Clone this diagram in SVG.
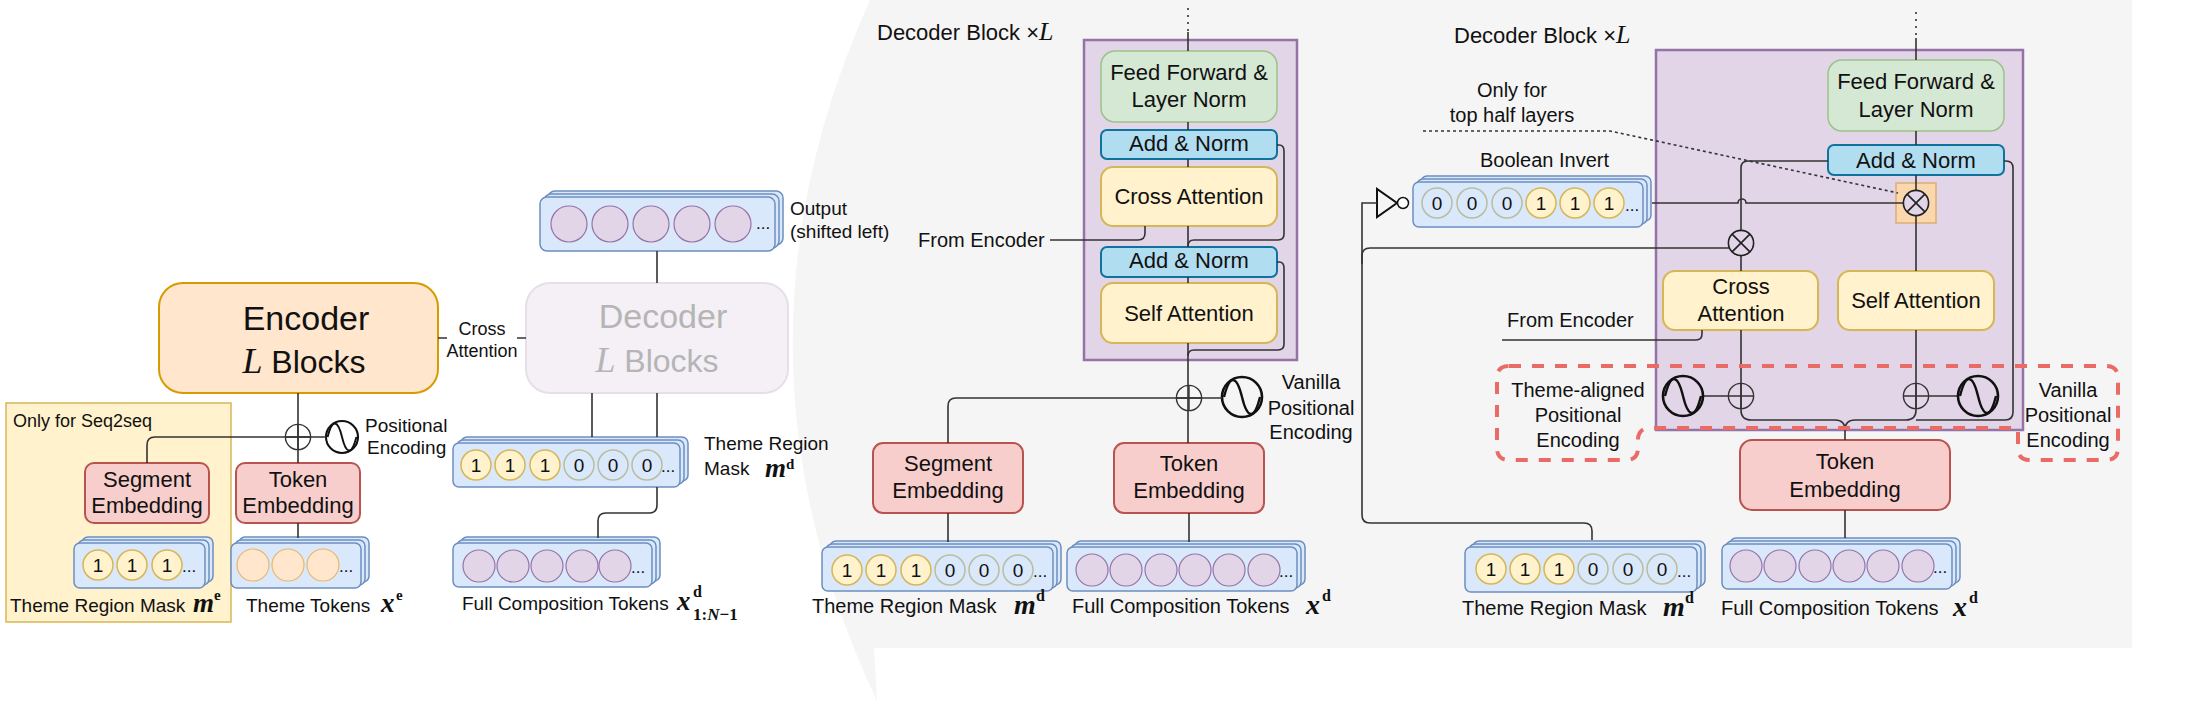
<svg xmlns="http://www.w3.org/2000/svg" xmlns:xlink="http://www.w3.org/1999/xlink" width="2189" height="701" viewBox="0 0 2189 701">
<defs>
<style>
.t{font-family:"Liberation Sans",Arial,sans-serif;fill:#111}
.mi{font-family:"Liberation Serif","Times New Roman",serif;font-style:italic;font-weight:bold;fill:#111}
.mr{font-family:"Liberation Serif","Times New Roman",serif;font-weight:bold;fill:#111}
.ml{font-family:"Liberation Serif","Times New Roman",serif;font-style:italic;fill:#111}
.ln{fill:none;stroke:#333;stroke-width:1.6}
.stk{fill:#dae8fc;stroke:#6c8ebf;stroke-width:1.5}
.c1{fill:#fff2cc;stroke:#d6b656;stroke-width:1.5}
.c0{fill:#dae8fc;stroke:#b9bd9f;stroke-width:1.5}
.cp{fill:#e1d5e7;stroke:#9673a6;stroke-width:1.2}
.co{fill:#ffe6cc;stroke:#e8b86c;stroke-width:1.2}
.emb{fill:#f8cecc;stroke:#b85450;stroke-width:2}
.att{fill:#fff2cc;stroke:#d6b656;stroke-width:2}
.ff{fill:#d5e8d4;stroke:#9cc28a;stroke-width:1.5}
.an{fill:#b1ddf0;stroke:#10739e;stroke-width:2}
.blk{fill:#e1d5e7;stroke:#9673a6;stroke-width:2.5}
.red{fill:none;stroke:#ea6b66;stroke-width:4;stroke-dasharray:12 11}
.dig{font-family:"Liberation Sans",Arial,sans-serif;font-size:19px;fill:#111;text-anchor:middle}
.dots{font-family:"Liberation Sans",Arial,sans-serif;font-size:17px;fill:#111}
</style>
<g id="sine"><circle r="20" fill="none" stroke="#111" stroke-width="2.6"/><path d="M-18,0 C-12,-24 -5,-21 0,0 S12,24 18,0" fill="none" stroke="#111" stroke-width="2.4"/></g>
<g id="plus"><circle r="12.6" fill="none" stroke="#333" stroke-width="1.4"/><path d="M-12.6,0H12.6M0,-12.6V12.6" stroke="#333" stroke-width="1.4"/></g>
<g id="mult"><circle r="12.6" fill="#e1d5e7" stroke="#222" stroke-width="1.6"/><path d="M-8.9,-8.9L8.9,8.9M-8.9,8.9L8.9,-8.9" stroke="#222" stroke-width="1.6"/></g>
</defs>

<rect width="2189" height="701" fill="#ffffff"/>
<path id="panel" d="M870,0 H2132 V648 H874 L877,701 Q712,350 870,0 Z" fill="#f5f5f5"/>

<!-- ================= LEFT OVERVIEW ================= -->
<g id="seq2seq-region">
<rect x="6" y="403" width="225" height="219" fill="#fff2cc" stroke="#d6b656" stroke-width="1.5"/>
<text class="t" x="13" y="427" font-size="18">Only for Seq2seq</text>
</g>

<g id="encoder">
<rect x="159" y="283" width="279" height="110" rx="24" fill="#ffe6cc" stroke="#d79b00" stroke-width="2"/>
<text class="t" x="306" y="330" font-size="34" text-anchor="middle">Encoder</text>
<text x="304" y="373" text-anchor="middle"><tspan class="ml" font-size="36">L</tspan><tspan class="t" font-size="32"> Blocks</tspan></text>
</g>

<g id="cross-attention-label">
<text class="t" x="482" y="335" font-size="18" text-anchor="middle">Cross</text>
<text class="t" x="482" y="357" font-size="18" text-anchor="middle">Attention</text>
</g>

<g id="decoder-overview" >
<rect x="526" y="283" width="262" height="110" rx="24" fill="#f4f0f6" stroke="#e6dfe9" stroke-width="2"/>
<text class="t" x="663" y="328" font-size="34" text-anchor="middle" style="fill:#b5b5b5">Decoder</text>
<text x="657" y="372" text-anchor="middle"><tspan class="ml" font-size="36" style="fill:#b5b5b5">L</tspan><tspan class="t" font-size="32" style="fill:#b5b5b5"> Blocks</tspan></text>
</g>

<g id="output-stack" transform="translate(540,197)">
<rect class="stk" x="8" y="-6" width="235" height="54" rx="7"/>
<rect class="stk" x="4" y="-3" width="235" height="54" rx="7"/>
<rect class="stk" x="0" y="0" width="235" height="54" rx="7"/>
<circle class="cp" cx="29" cy="27" r="18"/><circle class="cp" cx="70" cy="27" r="18"/><circle class="cp" cx="111" cy="27" r="18"/><circle class="cp" cx="152" cy="27" r="18"/><circle class="cp" cx="193" cy="27" r="18"/>
<text class="dots" x="216" y="32">...</text>
</g>
<g id="output-label">
<text class="t" x="790" y="215" font-size="19">Output</text>
<text class="t" x="790" y="238" font-size="19">(shifted left)</text>
</g>

<g id="seg-emb-enc">
<rect class="emb" x="85" y="463" width="124" height="60" rx="9"/>
<text class="t" x="147" y="487" font-size="22" text-anchor="middle">Segment</text>
<text class="t" x="147" y="513" font-size="22" text-anchor="middle">Embedding</text>
</g>
<g id="tok-emb-enc">
<rect class="emb" x="236" y="463" width="124" height="60" rx="9"/>
<text class="t" x="298" y="487" font-size="22" text-anchor="middle">Token</text>
<text class="t" x="298" y="513" font-size="22" text-anchor="middle">Embedding</text>
</g>
<g id="pe-enc">
<use xlink:href="#sine" href="#sine" transform="translate(342,437) scale(0.8)"/>
<text class="t" x="365" y="432" font-size="19">Positional</text>
<text class="t" x="367" y="454" font-size="19">Encoding</text>
</g>
<g id="add-enc"><use xlink:href="#plus" href="#plus" x="298" y="437"/></g>

<g id="mask-enc" transform="translate(74,543)">
<rect class="stk" x="8" y="-6" width="131" height="45" rx="6"/>
<rect class="stk" x="4" y="-3" width="131" height="45" rx="6"/>
<rect class="stk" x="0" y="0" width="131" height="45" rx="6"/>
<circle class="c1" cx="24" cy="22" r="15"/><circle class="c1" cx="58" cy="22" r="15"/><circle class="c1" cx="93" cy="22" r="15"/>
<text class="dig" x="24" y="29">1</text><text class="dig" x="58" y="29">1</text><text class="dig" x="93" y="29">1</text>
<text class="dots" x="108" y="29">...</text>
</g>
<g id="mask-enc-label">
<text class="t" x="10" y="612" font-size="19">Theme Region Mask</text>
<text class="mi" x="193" y="612" font-size="27">m</text>
<text class="mr" x="214" y="600" font-size="15">e</text>
</g>

<g id="theme-tokens" transform="translate(231,543)">
<rect class="stk" x="8" y="-6" width="130" height="45" rx="6"/>
<rect class="stk" x="4" y="-3" width="130" height="45" rx="6"/>
<rect class="stk" x="0" y="0" width="130" height="45" rx="6"/>
<circle class="co" cx="22" cy="22" r="16"/><circle class="co" cx="57" cy="22" r="16"/><circle class="co" cx="92" cy="22" r="16"/>
<text class="dots" x="108" y="29">...</text>
</g>
<g id="theme-tokens-label">
<text class="t" x="246" y="612" font-size="19">Theme Tokens</text>
<text class="mi" x="381" y="612" font-size="27">x</text>
<text class="mr" x="396" y="600" font-size="15">e</text>
</g>

<g id="mask-dec" transform="translate(453,443)">
<rect class="stk" x="8" y="-6" width="227" height="44" rx="6"/>
<rect class="stk" x="4" y="-3" width="227" height="44" rx="6"/>
<rect class="stk" x="0" y="0" width="227" height="44" rx="6"/>
<circle class="c1" cx="23" cy="22" r="15"/><circle class="c1" cx="57" cy="22" r="15"/><circle class="c1" cx="92" cy="22" r="15"/>
<circle class="c0" cx="126" cy="22" r="15"/><circle class="c0" cx="160" cy="22" r="15"/><circle class="c0" cx="194" cy="22" r="15"/>
<text class="dig" x="23" y="29">1</text><text class="dig" x="57" y="29">1</text><text class="dig" x="92" y="29">1</text>
<text class="dig" x="126" y="29">0</text><text class="dig" x="160" y="29">0</text><text class="dig" x="194" y="29">0</text>
<text class="dots" x="208" y="29">...</text>
</g>
<g id="mask-dec-label">
<text class="t" x="704" y="450" font-size="19">Theme Region</text>
<text class="t" x="704" y="475" font-size="19">Mask</text>
<text class="mi" x="765" y="477" font-size="27">m</text>
<text class="mr" x="786" y="469" font-size="15">d</text>
</g>

<g id="fullcomp-dec" transform="translate(453,543)">
<rect class="stk" x="8" y="-6" width="199" height="44" rx="6"/>
<rect class="stk" x="4" y="-3" width="199" height="44" rx="6"/>
<rect class="stk" x="0" y="0" width="199" height="44" rx="6"/>
<circle class="cp" cx="26" cy="23" r="16"/><circle class="cp" cx="60" cy="23" r="16"/><circle class="cp" cx="94" cy="23" r="16"/><circle class="cp" cx="129" cy="23" r="16"/><circle class="cp" cx="162" cy="23" r="16"/>
<text class="dots" x="178" y="30">...</text>
</g>
<g id="fullcomp-dec-label">
<text class="t" x="462" y="610" font-size="19">Full Composition Tokens</text>
<text class="mi" x="677" y="610" font-size="27">x</text>
<text class="mr" x="693" y="597" font-size="16">d</text>
<text x="693" y="620" font-size="17"><tspan class="mr">1:</tspan><tspan class="mi">N</tspan><tspan class="mr">−1</tspan></text>
</g>

<!-- ================= MIDDLE DECODER BLOCK ================= -->
<g id="mid-title">
<text x="877" y="40"><tspan class="t" font-size="22">Decoder Block </tspan><tspan class="t" font-size="22">×</tspan><tspan class="ml" font-size="26">L</tspan></text>
</g>
<g id="mid-block">
<rect class="blk" x="1084" y="40" width="213" height="320"/>
</g>
<g id="mid-ff">
<rect class="ff" x="1101" y="51" width="176" height="71" rx="14"/>
<text class="t" x="1189" y="80" font-size="22" text-anchor="middle">Feed Forward &amp;</text>
<text class="t" x="1189" y="107" font-size="22" text-anchor="middle">Layer Norm</text>
</g>
<g id="mid-addnorm-top">
<rect class="an" x="1101" y="130" width="176" height="29" rx="6"/>
<text class="t" x="1189" y="151" font-size="22" text-anchor="middle">Add &amp; Norm</text>
</g>
<g id="mid-cross">
<rect class="att" x="1101" y="167" width="176" height="59" rx="12"/>
<text class="t" x="1189" y="204" font-size="22" text-anchor="middle">Cross Attention</text>
</g>
<g id="mid-addnorm-bot">
<rect class="an" x="1101" y="247" width="176" height="30" rx="6"/>
<text class="t" x="1189" y="268" font-size="22" text-anchor="middle">Add &amp; Norm</text>
</g>
<g id="mid-self">
<rect class="att" x="1101" y="283" width="176" height="60" rx="12"/>
<text class="t" x="1189" y="321" font-size="22" text-anchor="middle">Self Attention</text>
</g>
<g id="mid-from-encoder"><text class="t" x="918" y="247" font-size="20">From Encoder</text></g>
<g id="mid-pe">
<use xlink:href="#sine" href="#sine" x="1242" y="397"/>
<text class="t" x="1311" y="389" font-size="20" text-anchor="middle">Vanilla</text>
<text class="t" x="1311" y="415" font-size="20" text-anchor="middle">Positional</text>
<text class="t" x="1311" y="439" font-size="20" text-anchor="middle">Encoding</text>
</g>
<g id="mid-add"><use xlink:href="#plus" href="#plus" x="1189" y="398"/></g>
<g id="mid-seg-emb">
<rect class="emb" x="873" y="443" width="150" height="70" rx="10"/>
<text class="t" x="948" y="471" font-size="22" text-anchor="middle">Segment</text>
<text class="t" x="948" y="498" font-size="22" text-anchor="middle">Embedding</text>
</g>
<g id="mid-tok-emb">
<rect class="emb" x="1114" y="443" width="150" height="70" rx="10"/>
<text class="t" x="1189" y="471" font-size="22" text-anchor="middle">Token</text>
<text class="t" x="1189" y="498" font-size="22" text-anchor="middle">Embedding</text>
</g>
<g id="mid-mask" transform="translate(822,547)">
<rect class="stk" x="8" y="-6" width="231" height="44" rx="6"/>
<rect class="stk" x="4" y="-3" width="231" height="44" rx="6"/>
<rect class="stk" x="0" y="0" width="231" height="44" rx="6"/>
<circle class="c1" cx="25" cy="23" r="15"/><circle class="c1" cx="59" cy="23" r="15"/><circle class="c1" cx="94" cy="23" r="15"/>
<circle class="c0" cx="128" cy="23" r="15"/><circle class="c0" cx="162" cy="23" r="15"/><circle class="c0" cx="196" cy="23" r="15"/>
<text class="dig" x="25" y="30">1</text><text class="dig" x="59" y="30">1</text><text class="dig" x="94" y="30">1</text>
<text class="dig" x="128" y="30">0</text><text class="dig" x="162" y="30">0</text><text class="dig" x="196" y="30">0</text>
<text class="dots" x="211" y="30">...</text>
</g>
<g id="mid-mask-label">
<text class="t" x="812" y="613" font-size="20">Theme Region Mask</text>
<text class="mi" x="1014" y="614" font-size="28">m</text>
<text class="mr" x="1036" y="601" font-size="16">d</text>
</g>
<g id="mid-fullcomp" transform="translate(1067,547)">
<rect class="stk" x="8" y="-6" width="230" height="44" rx="6"/>
<rect class="stk" x="4" y="-3" width="230" height="44" rx="6"/>
<rect class="stk" x="0" y="0" width="230" height="44" rx="6"/>
<circle class="cp" cx="25" cy="23" r="16"/><circle class="cp" cx="59" cy="23" r="16"/><circle class="cp" cx="94" cy="23" r="16"/><circle class="cp" cx="128" cy="23" r="16"/><circle class="cp" cx="162" cy="23" r="16"/><circle class="cp" cx="197" cy="23" r="16"/>
<text class="dots" x="212" y="30">...</text>
</g>
<g id="mid-fullcomp-label">
<text class="t" x="1072" y="613" font-size="20">Full Composition Tokens</text>
<text class="mi" x="1306" y="614" font-size="28">x</text>
<text class="mr" x="1322" y="601" font-size="16">d</text>
</g>

<!-- ================= RIGHT DECODER BLOCK ================= -->
<g id="right-title">
<text x="1454" y="43"><tspan class="t" font-size="22">Decoder Block </tspan><tspan class="t" font-size="22">×</tspan><tspan class="ml" font-size="26">L</tspan></text>
</g>
<g id="right-block">
<rect class="blk" x="1656" y="50" width="367" height="380"/>
</g>
<g id="right-ff">
<rect class="ff" x="1828" y="60" width="176" height="71" rx="14"/>
<text class="t" x="1916" y="89" font-size="22" text-anchor="middle">Feed Forward &amp;</text>
<text class="t" x="1916" y="117" font-size="22" text-anchor="middle">Layer Norm</text>
</g>
<g id="right-addnorm">
<rect class="an" x="1828" y="145" width="176" height="30" rx="6"/>
<text class="t" x="1916" y="168" font-size="22" text-anchor="middle">Add &amp; Norm</text>
</g>
<g id="right-gate">
<rect x="1896" y="183" width="40" height="40" fill="#fad7ac" stroke="#dcae74" stroke-width="1.5"/>
</g>
<g id="right-cross">
<rect class="att" x="1663" y="271" width="155" height="59" rx="12"/>
<text class="t" x="1741" y="294" font-size="22" text-anchor="middle">Cross</text>
<text class="t" x="1741" y="321" font-size="22" text-anchor="middle">Attention</text>
</g>
<g id="right-self">
<rect class="att" x="1838" y="271" width="156" height="59" rx="12"/>
<text class="t" x="1916" y="308" font-size="22" text-anchor="middle">Self Attention</text>
</g>
<g id="right-tok-emb">
<rect class="emb" x="1740" y="440" width="210" height="70" rx="12"/>
<text class="t" x="1845" y="469" font-size="22" text-anchor="middle">Token</text>
<text class="t" x="1845" y="497" font-size="22" text-anchor="middle">Embedding</text>
</g>
<g id="right-note">
<text class="t" x="1512" y="97" font-size="20" text-anchor="middle">Only for</text>
<text class="t" x="1512" y="122" font-size="20" text-anchor="middle">top half layers</text>
</g>
<g id="right-boolean-label"><text class="t" x="1480" y="167" font-size="20">Boolean Invert</text></g>
<g id="right-boolean" transform="translate(1413,182)">
<rect class="stk" x="8" y="-6" width="230" height="45" rx="6"/>
<rect class="stk" x="4" y="-3" width="230" height="45" rx="6"/>
<rect class="stk" x="0" y="0" width="230" height="45" rx="6"/>
<circle class="c0" cx="24" cy="21" r="15"/><circle class="c0" cx="59" cy="21" r="15"/><circle class="c0" cx="94" cy="21" r="15"/>
<circle class="c1" cx="128" cy="21" r="15"/><circle class="c1" cx="162" cy="21" r="15"/><circle class="c1" cx="196" cy="21" r="15"/>
<text class="dig" x="24" y="28">0</text><text class="dig" x="59" y="28">0</text><text class="dig" x="94" y="28">0</text>
<text class="dig" x="128" y="28">1</text><text class="dig" x="162" y="28">1</text><text class="dig" x="196" y="28">1</text>
<text class="dots" x="212" y="29">...</text>
</g>
<g id="right-inverter">
<polygon points="1377,189 1377,217 1397,203" fill="none" stroke="#111" stroke-width="2"/>
<circle cx="1403" cy="203" r="5.5" fill="#ffffff" stroke="#111" stroke-width="1.5"/>
</g>
<g id="right-from-encoder"><text class="t" x="1507" y="327" font-size="20">From Encoder</text></g>
<g id="right-theme-pe-label">
<text class="t" x="1578" y="397" font-size="20" text-anchor="middle">Theme-aligned</text>
<text class="t" x="1578" y="422" font-size="20" text-anchor="middle">Positional</text>
<text class="t" x="1578" y="447" font-size="20" text-anchor="middle">Encoding</text>
</g>
<g id="right-vanilla-pe-label">
<text class="t" x="2068" y="397" font-size="20" text-anchor="middle">Vanilla</text>
<text class="t" x="2068" y="422" font-size="20" text-anchor="middle">Positional</text>
<text class="t" x="2068" y="447" font-size="20" text-anchor="middle">Encoding</text>
</g>
<g id="right-mask" transform="translate(1465,547)">
<rect class="stk" x="8" y="-6" width="232" height="45" rx="6"/>
<rect class="stk" x="4" y="-3" width="232" height="45" rx="6"/>
<rect class="stk" x="0" y="0" width="232" height="45" rx="6"/>
<circle class="c1" cx="26" cy="22" r="15"/><circle class="c1" cx="60" cy="22" r="15"/><circle class="c1" cx="94" cy="22" r="15"/>
<circle class="c0" cx="128" cy="22" r="15"/><circle class="c0" cx="163" cy="22" r="15"/><circle class="c0" cx="197" cy="22" r="15"/>
<text class="dig" x="26" y="29">1</text><text class="dig" x="60" y="29">1</text><text class="dig" x="94" y="29">1</text>
<text class="dig" x="128" y="29">0</text><text class="dig" x="163" y="29">0</text><text class="dig" x="197" y="29">0</text>
<text class="dots" x="212" y="30">...</text>
</g>
<g id="right-mask-label">
<text class="t" x="1462" y="615" font-size="20">Theme Region Mask</text>
<text class="mi" x="1663" y="616" font-size="28">m</text>
<text class="mr" x="1685" y="603" font-size="16">d</text>
</g>
<g id="right-fullcomp" transform="translate(1722,544)">
<rect class="stk" x="8" y="-6" width="230" height="45" rx="6"/>
<rect class="stk" x="4" y="-3" width="230" height="45" rx="6"/>
<rect class="stk" x="0" y="0" width="230" height="45" rx="6"/>
<circle class="cp" cx="24" cy="22" r="16"/><circle class="cp" cx="58" cy="22" r="16"/><circle class="cp" cx="93" cy="22" r="16"/><circle class="cp" cx="127" cy="22" r="16"/><circle class="cp" cx="161" cy="22" r="16"/><circle class="cp" cx="196" cy="22" r="16"/>
<text class="dots" x="211" y="29">...</text>
</g>
<g id="right-fullcomp-label">
<text class="t" x="1721" y="615" font-size="20">Full Composition Tokens</text>
<text class="mi" x="1953" y="616" font-size="28">x</text>
<text class="mr" x="1969" y="603" font-size="16">d</text>
</g>

<!-- ================= CONNECTORS ================= -->
<g id="connectors">
<!-- left -->
<path class="ln" d="M438,338 H447 M517,338 H526" stroke-width="1.2"/>
<path class="ln" d="M657,251 V283"/>
<path class="ln" d="M592,393 V437 M657,393 V437"/>
<path class="ln" d="M657,487 V505 Q657,513 649,513 H606 Q598,513 598,521 V538"/>
<path class="ln" d="M298,393 V463"/>
<path class="ln" d="M147,463 V445 Q147,437 155,437 H326"/>
<path class="ln" d="M298,523 V538"/>
<!-- middle -->
<path class="ln" d="M1188,8 V32" stroke-dasharray="2 5" stroke-width="2"/>
<path class="ln" d="M1188,32 V51 M1188,122 V130 M1188,159 V167 M1188,226 V247 M1188,277 V283 M1188,343 V443"/>
<path class="ln" d="M1277,145 H1279 Q1284,145 1284,151 V234 Q1284,240 1278,240 H1194 Q1188,240 1188,246"/>
<path class="ln" d="M1277,262 H1279 Q1284,262 1284,268 V344 Q1284,350 1278,350 H1194 Q1188,350 1188,356"/>
<path class="ln" d="M1050,240 H1138 Q1145,240 1145,233 V226"/>
<path class="ln" d="M948,443 V406 Q948,398 956,398 H1222"/>
<path class="ln" d="M948,513 V542 M1189,513 V542"/>
<!-- right -->
<path class="ln" d="M1916,12 V38" stroke-dasharray="2 5" stroke-width="2"/>
<path class="ln" d="M1916,38 V60 M1916,131 V145 M1916,175 V271"/>
<path class="ln" d="M1741,271 V168 Q1741,161 1748,161 H1828"/>
<path class="ln" d="M1652,203 H1738 A4,4 0 0 1 1746,203 H1904"/>
<path class="ln" d="M1423,131 H1610 L1898,193" stroke-dasharray="3 3" stroke-width="1.3"/>
<path class="ln" d="M1592,540 V531 Q1592,523 1584,523 H1370 Q1362,523 1362,515 V203 H1377"/>
<path class="ln" d="M1362,264 V256 Q1362,248 1370,248 H1729"/>
<path class="ln" d="M1702,330 V334 Q1702,340 1696,340 H1502"/>
<path class="ln" d="M1741,330 V410 Q1741,420 1751,420 H1835 Q1845,420 1845,430 V440"/>
<path class="ln" d="M1916,330 V410 Q1916,420 1906,420 H1855 Q1845,420 1845,430"/>
<path class="ln" d="M2004,161 H2006 Q2013,161 2013,168 V412 Q2013,420 2005,420 H1916"/>
<path class="ln" d="M1703,396 H1728 M1929,396 H1958"/>
<path class="ln" d="M1845,510 V538"/>
</g>

<g id="right-ops">
<use xlink:href="#mult" href="#mult" x="1916" y="203" style="fill:#fad7ac"/>
<use xlink:href="#mult" href="#mult" x="1741" y="243"/>
<use xlink:href="#plus" href="#plus" x="1741" y="396"/>
<use xlink:href="#plus" href="#plus" x="1916" y="396"/>
<use xlink:href="#sine" href="#sine" x="1683" y="396"/>
<use xlink:href="#sine" href="#sine" x="1978" y="396"/>
</g>

<g id="pe-regions">
<path class="red" d="M1509,366 H2106 Q2118,366 2118,378 V448 Q2118,460 2106,460 H2030 Q2018,460 2018,448 V428 H1650 Q1638,428 1638,440 V448 Q1638,460 1626,460 H1509 Q1497,460 1497,448 V378 Q1497,366 1509,366 Z"/>
</g>
</svg>
